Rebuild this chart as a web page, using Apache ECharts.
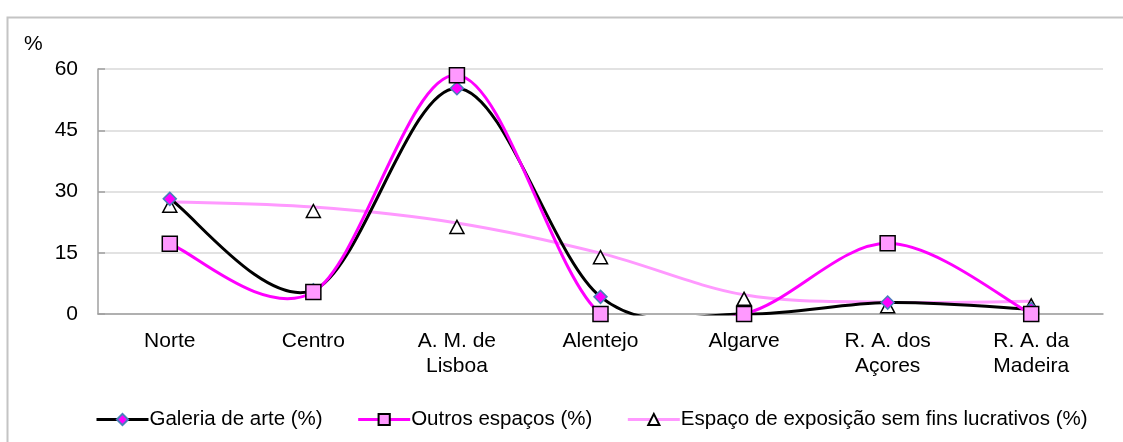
<!DOCTYPE html>
<html>
<head>
<meta charset="utf-8">
<script src="https://cdn.jsdelivr.net/npm/echarts@6/dist/echarts.min.js"></script>
<style>
  html, body { margin: 0; padding: 0; background: #fff; }
  #chart { width: 1123px; height: 442px; }
</style>
</head>
<body>
<div id="chart"></div>
<script>
// categorias (regiões)
const regioes = ['Norte', 'Centro', 'A. M. de\nLisboa', 'Alentejo', 'Algarve', 'R. A. dos\nAçores', 'R. A. da\nMadeira']
const yTicks = [0, 15, 30, 45, 60]

// séries (%)
const galeria = [28.2, 5.8, 55.3, 4.2, 0, 2.8, 1.2]
const outros = [17.2, 5.4, 58.5, 0, 0, 17.3, 0]
const semFins = [27.5, 26.2, 22.3, 14.9, 4.7, 2.9, 3.1]

const nomes = ['Galeria de arte (%)', 'Outros espaços (%)', 'Espaço de exposição sem fins lucrativos (%)']
const cores = ['#000000', '#ff00ff', '#ff99ff']

const font = 'Liberation Sans, Arial, sans-serif'

// curva suavizada tipo Excel (Catmull-Rom -> Bezier), pontos via api.coord
function curva(valores, cor, z) {
  return {
    type: 'custom', z: z, silent: true,
    data: [[0, 0]],
    renderItem: function (params, api) {
      const p = valores.map((v, i) => api.coord([i, v]))
      const n = p.length
      let d = 'M' + p[0][0] + ' ' + p[0][1]
      for (let i = 0; i < n - 1; i++) {
        const p0 = p[Math.max(i - 1, 0)], p1 = p[i], p2 = p[i + 1], p3 = p[Math.min(i + 2, n - 1)]
        const c1 = [p1[0] + (p2[0] - p0[0]) / 6, p1[1] + (p2[1] - p0[1]) / 6]
        const c2 = [p2[0] - (p3[0] - p1[0]) / 6, p2[1] - (p3[1] - p1[1]) / 6]
        d += ' C' + c1[0] + ' ' + c1[1] + ' ' + c2[0] + ' ' + c2[1] + ' ' + p2[0] + ' ' + p2[1]
      }
      const cs = params.coordSys
      return {
        type: 'path',
        shape: { pathData: d },
        style: { fill: 'none', stroke: cor, lineWidth: 3 },
        // recorta como o Excel, deixando a linha encostar ao eixo
        clipPath: { type: 'rect', shape: { x: cs.x - 5, y: cs.y - 5, width: cs.width + 10, height: cs.height + 6.5 } }
      }
    }
  }
}

const chart = echarts.init(document.getElementById('chart'))

chart.setOption({
  animation: false,
  textStyle: { fontFamily: font },
  graphic: [
    {
      type: 'rect',
      shape: { x: 7.5, y: 17.5, width: 1200, height: 500 },
      style: { fill: 'none', stroke: '#c4c4c4', lineWidth: 2 },
      silent: true
    },
    {
      type: 'text',
      left: 24, top: 34,
      style: { text: '%', font: '21px ' + font, fill: '#000' }
    }
  ],
  grid: { left: 98, right: 20, top: 69, bottom: 128 },
  legend: {
    left: 90, top: 404,
    itemWidth: 52, itemHeight: 14, itemGap: 34,
    textStyle: { fontSize: 20.5, color: '#000', padding: [0, 0, 0, -4] },
    data: nomes.map((n, i) => ({ name: n, lineStyle: { color: cores[i], width: 3, opacity: 1 } }))
  },
  xAxis: {
    type: 'category',
    data: regioes,
    boundaryGap: true,
    axisLine: { lineStyle: { color: '#a0a0a0', width: 1.5 } },
    axisTick: { inside: true, length: 6, lineStyle: { color: '#a0a0a0', width: 1.5 } },
    axisLabel: { fontSize: 21, color: '#000', margin: 15, lineHeight: 25, interval: 0 }
  },
  yAxis: {
    type: 'value',
    min: yTicks[0], max: yTicks[yTicks.length - 1], interval: 15,
    axisLine: { show: true, lineStyle: { color: '#a0a0a0', width: 1.5 } },
    axisTick: { show: true, inside: true, length: 7, lineStyle: { color: '#a0a0a0', width: 1.5 } },
    axisLabel: { fontSize: 21, color: '#000', margin: 20 },
    splitLine: { lineStyle: { color: '#d9d9d9', width: 1.5 } }
  },
  series: [
    curva(semFins, cores[2], 2),
    curva(galeria, cores[0], 3),
    curva(outros, cores[1], 4),
    {
      name: nomes[0], type: 'line', data: galeria, z: 6,
      symbol: 'diamond', symbolSize: 13,
      lineStyle: { color: cores[0], width: 3, opacity: 0 },
      itemStyle: { color: '#ff00ff', borderColor: '#4a7ebb', borderWidth: 1.5 }
    },
    {
      name: nomes[1], type: 'line', data: outros, z: 7,
      symbol: 'rect', symbolSize: 15,
      lineStyle: { color: cores[1], width: 3, opacity: 0 },
      itemStyle: { color: '#ff99ff', borderColor: '#000', borderWidth: 1.5 }
    },
    {
      name: nomes[2], type: 'line', data: semFins, z: 5,
      symbol: 'triangle', symbolSize: [14, 13], symbolOffset: [0, 4],
      lineStyle: { color: cores[2], width: 3, opacity: 0 },
      itemStyle: { color: '#fff', borderColor: '#000', borderWidth: 1.5 }
    }
  ]
})
</script>
</body>
</html>
